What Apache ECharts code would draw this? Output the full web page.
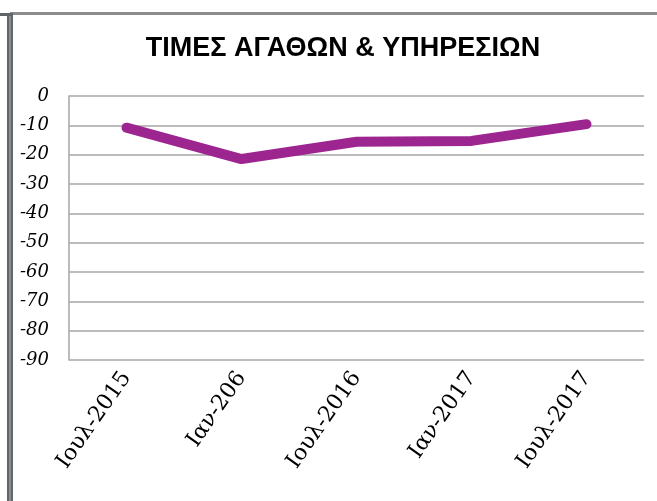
<!DOCTYPE html>
<html>
<head>
<meta charset="utf-8">
<script src="https://cdn.jsdelivr.net/npm/echarts@6/dist/echarts.min.js"></script>
<style>
  html, body { margin: 0; padding: 0; background: #fff; }
  #chart { width: 657px; height: 501px; }
</style>
</head>
<body>
<div id="chart"></div>
<script>
// data
const titleText = 'ΤΙΜΕΣ ΑΓΑΘΩΝ & ΥΠΗΡΕΣΙΩΝ'
const categories = ['Ιουλ-2015', 'Ιαν-206', 'Ιουλ-2016', 'Ιαν-2017', 'Ιουλ-2017']
const prices = [-10.8, -21.5, -15.6, -15.3, -9.6]
const yTicks = [0, -10, -20, -30, -40, -50, -60, -70, -80, -90]

const chart = echarts.init(document.getElementById('chart'))

chart.setOption({
  animation: false,
  backgroundColor: '#fff',
  title: {
    text: titleText,
    left: 338,
    textAlign: 'center',
    top: 30,
    textStyle: {
      fontFamily: 'Liberation Sans',
      fontWeight: 'bold',
      fontSize: 27,
      color: '#000'
    }
  },
  graphic: [
    // frame pieces around the chart
    { type: 'rect', left: 10, top: 12, shape: { width: 647, height: 3 }, style: { fill: '#8c8c8c' } },
    { type: 'rect', left: 0, top: 13, shape: { width: 10, height: 3 }, style: { fill: '#5f6368' } },
    { type: 'rect', left: 7, top: 13, shape: { width: 6, height: 488 }, style: { fill: '#62666b' } },
    { type: 'rect', left: 9, top: 16, shape: { width: 2, height: 485 }, style: { fill: '#8a8e92' } }
  ],
  grid: {
    left: 69,
    right: 13,
    top: 96,
    bottom: 141
  },
  xAxis: {
    type: 'category',
    data: categories,
    boundaryGap: true,
    axisLine: { show: false },
    axisTick: { show: false },
    axisLabel: {
      rotate: 55,
      margin: 14,
      fontFamily: 'DejaVu Serif',
      fontSize: 22,
      color: '#000'
    }
  },
  yAxis: {
    type: 'value',
    min: -90,
    max: 0,
    interval: 10,
    axisLine: { show: true, lineStyle: { color: '#a6a6a6', width: 1.5 } },
    axisTick: { show: false },
    axisLabel: {
      margin: 20,
      fontFamily: 'DejaVu Serif',
      fontStyle: 'italic',
      fontSize: 18,
      color: '#000',
      formatter: v => (yTicks.indexOf(v) >= 0 ? String(v) : '')
    },
    splitLine: {
      lineStyle: { color: '#a6a6a6', width: 1.5 }
    }
  },
  series: [
    {
      name: titleText,
      type: 'line',
      data: prices,
      symbol: 'none',
      lineStyle: {
        color: '#9c2590',
        width: 10,
        cap: 'round',
        join: 'round'
      }
    }
  ]
})
</script>
</body>
</html>
